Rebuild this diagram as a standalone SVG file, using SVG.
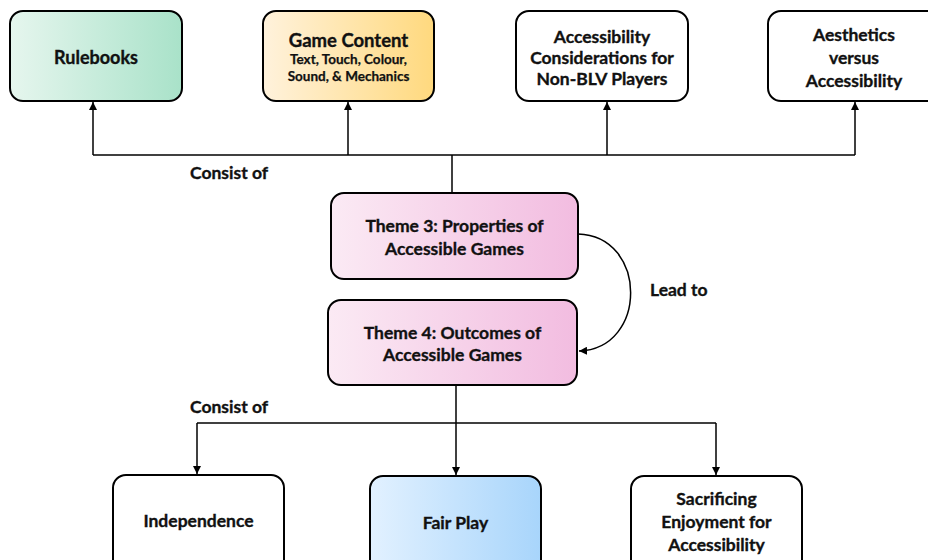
<svg xmlns="http://www.w3.org/2000/svg" width="928" height="560" viewBox="0 0 928 560">
  <defs>
    <linearGradient id="gGreen" x1="0" y1="0" x2="1" y2="0">
      <stop offset="0" stop-color="#e6f6ee"/>
      <stop offset="1" stop-color="#a9e2c9"/>
    </linearGradient>
    <linearGradient id="gYellow" x1="0" y1="0" x2="1" y2="0">
      <stop offset="0" stop-color="#fff2dc"/>
      <stop offset="1" stop-color="#ffd97e"/>
    </linearGradient>
    <linearGradient id="gPink" x1="0" y1="0" x2="1" y2="0">
      <stop offset="0" stop-color="#fbeaf4"/>
      <stop offset="1" stop-color="#f2bce0"/>
    </linearGradient>
    <linearGradient id="gBlue" x1="0" y1="0" x2="1" y2="0">
      <stop offset="0" stop-color="#e2f1ff"/>
      <stop offset="1" stop-color="#a8d5fb"/>
    </linearGradient>
    <marker id="arrow" viewBox="0 0 10 10" refX="10" refY="5" markerWidth="8" markerHeight="8" markerUnits="userSpaceOnUse" orient="auto">
      <path d="M0,0 L10,5 L0,10 Z" fill="#000"/>
    </marker>
  </defs>
  <style>
    .box { stroke: #000; stroke-width: 2; }
    .plain { fill: #fff; }
    .t { font-family: Lato, "Liberation Sans", sans-serif; font-weight: bold; fill: #111; stroke: #111; stroke-width: 0.35; text-anchor: middle; dominant-baseline: central; }
    .m { font-size: 17.5px; }
    .s { font-size: 13.5px; stroke-width: 0.25; }
    .lbl { font-family: Lato, "Liberation Sans", sans-serif; font-weight: bold; font-size: 17.5px; fill: #111; stroke: #111; stroke-width: 0.35; dominant-baseline: central; }
    .conn { fill: none; stroke: #000; stroke-width: 1.5; }
  </style>
  <rect width="928" height="560" fill="#fff"/>

  <!-- top row -->
  <g id="rulebooks">
    <rect class="box" x="10" y="11" width="172" height="90" rx="13" fill="url(#gGreen)"/>
    <text class="t" x="96" y="57" font-size="18">Rulebooks</text>
  </g>
  <g id="game-content">
    <rect class="box" x="263" y="11" width="171" height="90" rx="13" fill="url(#gYellow)"/>
    <text class="t" x="348.5" y="40" font-size="18.5">Game Content</text>
    <text class="t s" x="348.5" y="59">Text, Touch, Colour,</text>
    <text class="t s" x="348.5" y="76">Sound, &amp; Mechanics</text>
  </g>
  <g id="non-blv">
    <rect class="box plain" x="516" y="11" width="172" height="90" rx="13"/>
    <text class="t m" x="602" y="36">Accessibility</text>
    <text class="t m" x="602" y="57">Considerations for</text>
    <text class="t m" x="602" y="78">Non-BLV Players</text>
  </g>
  <g id="aesthetics">
    <rect class="box plain" x="768" y="11" width="172" height="90" rx="13"/>
    <text class="t m" x="854" y="34">Aesthetics</text>
    <text class="t m" x="854" y="57">versus</text>
    <text class="t m" x="854" y="80">Accessibility</text>
  </g>

  <!-- themes -->
  <g id="theme3">
    <rect class="box" x="331" y="193" width="247" height="86" rx="13" fill="url(#gPink)"/>
    <text class="t m" x="454.5" y="225">Theme 3: Properties of</text>
    <text class="t m" x="454.5" y="248">Accessible Games</text>
  </g>
  <g id="theme4">
    <rect class="box" x="328" y="300" width="249" height="85" rx="13" fill="url(#gPink)"/>
    <text class="t m" x="452.5" y="332">Theme 4: Outcomes of</text>
    <text class="t m" x="452.5" y="354">Accessible Games</text>
  </g>

  <!-- bottom row -->
  <g id="independence">
    <rect class="box plain" x="113" y="475" width="171" height="100" rx="13"/>
    <text class="t m" x="198.5" y="520">Independence</text>
  </g>
  <g id="fair-play">
    <rect class="box" x="370" y="476" width="171" height="100" rx="13" fill="url(#gBlue)"/>
    <text class="t m" x="455.5" y="522">Fair Play</text>
  </g>
  <g id="sacrificing">
    <rect class="box plain" x="631" y="476" width="171" height="100" rx="13"/>
    <text class="t m" x="716.5" y="498">Sacrificing</text>
    <text class="t m" x="716.5" y="521">Enjoyment for</text>
    <text class="t m" x="716.5" y="544">Accessibility</text>
  </g>

  <!-- connectors -->
  <g id="connectors">
    <path class="conn" d="M452,193 V155"/>
    <path class="conn" d="M93,155 H855"/>
    <path class="conn" d="M93,155 V102" marker-end="url(#arrow)"/>
    <path class="conn" d="M348,155 V102" marker-end="url(#arrow)"/>
    <path class="conn" d="M607,155 V102" marker-end="url(#arrow)"/>
    <path class="conn" d="M855,155 V102" marker-end="url(#arrow)"/>

    <path class="conn" d="M578,234 C648,236 648,349 579,351" marker-end="url(#arrow)"/>

    <path class="conn" d="M456,385 V475" marker-end="url(#arrow)"/>
    <path class="conn" d="M197,423 H716"/>
    <path class="conn" d="M197,423 V474" marker-end="url(#arrow)"/>
    <path class="conn" d="M716,423 V475" marker-end="url(#arrow)"/>

    <text class="lbl" x="190" y="172">Consist of</text>
    <text class="lbl" x="650" y="289">Lead to</text>
    <text class="lbl" x="190" y="406">Consist of</text>
  </g>
</svg>
